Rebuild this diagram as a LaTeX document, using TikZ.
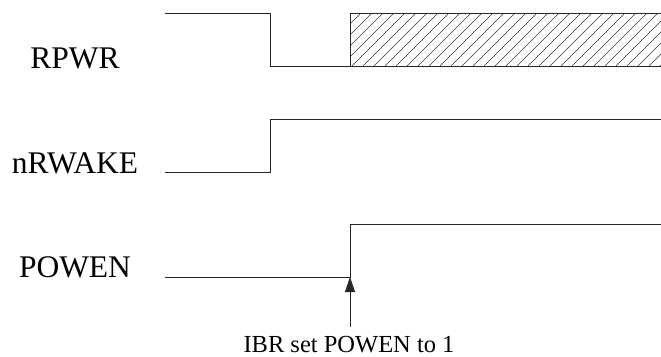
\documentclass[tikz,border=0pt]{standalone}
\usepackage{fontspec}
\setmainfont{Liberation Serif}
\usetikzlibrary{arrows.meta}

\tikzset{
  siglabel/.style={anchor=base,font=\fontsize{31.5}{36}\selectfont},
  wave/.style={line width=1pt,black!85},
  hatchline/.style={line width=0.6pt,black!80}
}

\begin{document}
\begin{tikzpicture}[x=1pt,y=-1pt]
  \useasboundingbox (0,0) rectangle (661,356);
  % signal names
  \node[siglabel] (rpwr) at (75,68) {RPWR};
  \node[siglabel] (nrwake) at (75,173) {nRWAKE};
  \node[siglabel] (powen) at (75,277) {POWEN};
  % RPWR
  \draw[wave] (165,13)--(270,13)--(270,66)--(661,66);
  \begin{scope}
    \clip (350,13) rectangle (661,66);
    \foreach \x in {297,308,...,670}
      \draw[hatchline] (\x,66)--(\x+53,13);
  \end{scope}
  \draw[wave] (661,13)--(350,13)--(350,66);
  % nRWAKE
  \draw[wave] (165,172)--(270,172)--(270,119)--(661,119);
  % POWEN
  \coordinate (rise) at (350,277);
  \draw[wave] (165,277)--(rise)--(350,224)--(661,224);
  % note
  \node[anchor=base,inner sep=1pt,font=\fontsize{24.5}{28}\selectfont] (note) at (349,352) {IBR set POWEN to 1};
  \coordinate (tail) at (350,327);
  \draw[wave,-{Triangle[length=15pt,width=10pt]}] (tail) -- (rise);
\end{tikzpicture}
\end{document}
